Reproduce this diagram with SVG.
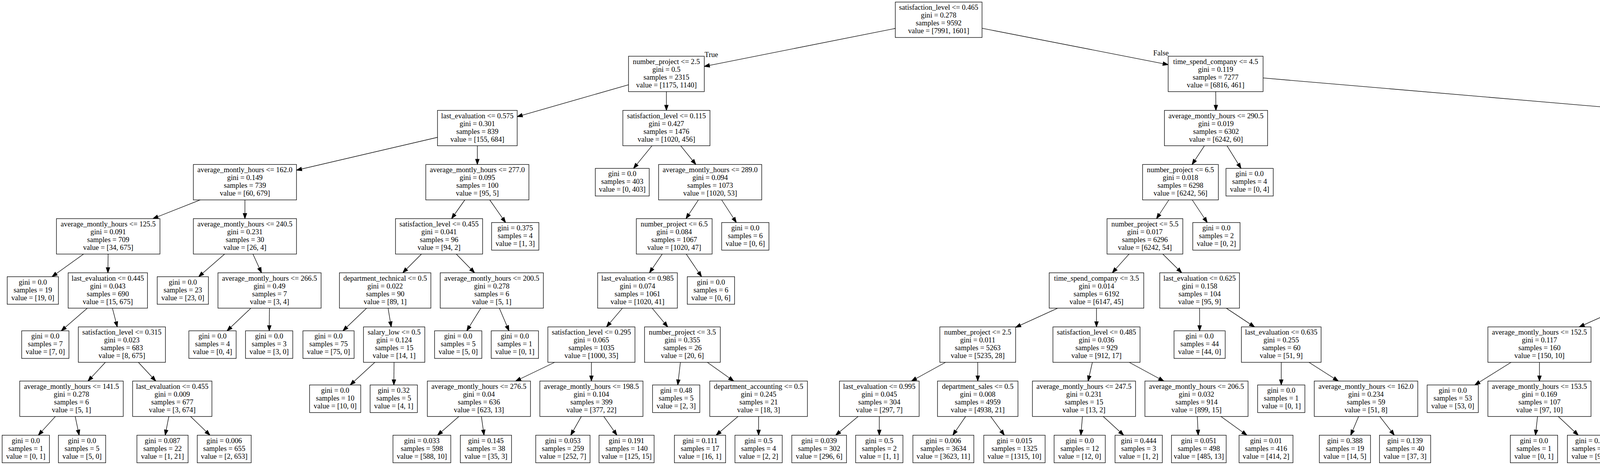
<svg xmlns="http://www.w3.org/2000/svg" width="6848" height="1191" viewBox="0 0 6848 1191">
<defs>
<style>
.node rect{fill:#ffffff;stroke:#000000;stroke-width:1.33}
.node text,.lbl{font-family:"Liberation Serif","Times New Roman",serif;font-size:18.67px;text-anchor:middle;fill:#000000}
#edges line{stroke:#000000;stroke-width:1.33;fill:none;marker-end:url(#arrow)}
</style>
<marker id="arrow" markerUnits="userSpaceOnUse" markerWidth="16" markerHeight="12" refX="13.33" refY="4.67" orient="auto" overflow="visible">
<path d="M0,0 L13.33,4.67 L0,9.33 Z" fill="#000000" stroke="#000000" stroke-width="1.33"/>
</marker>
</defs>
<rect x="0" y="0" width="6848" height="1191" fill="#ffffff"/>
<g id="edges">
<line x1="2292" y1="72.76" x2="1803" y2="170.03"/>
<line x1="2514" y1="72.38" x2="2990.5" y2="165.57"/>
<line x1="1609" y1="217.12" x2="1324" y2="298.78"/>
<line x1="1706" y1="234.67" x2="1706" y2="282.67"/>
<line x1="1120" y1="351.77" x2="759" y2="435.91"/>
<line x1="1222" y1="373.33" x2="1222" y2="421.33"/>
<line x1="512.6" y1="512" x2="391.4" y2="560"/>
<line x1="627" y1="512" x2="627" y2="560"/>
<line x1="213.9" y1="650.67" x2="133.2" y2="708.67"/>
<line x1="276.7" y1="650.67" x2="276.3" y2="698.67"/>
<line x1="223.7" y1="789.33" x2="156.8" y2="847.33"/>
<line x1="287.8" y1="789.33" x2="300.2" y2="837.33"/>
<line x1="269.8" y1="928" x2="225.2" y2="976"/>
<line x1="354.2" y1="928" x2="398.8" y2="976"/>
<line x1="141.8" y1="1066.67" x2="98.1" y2="1114.67"/>
<line x1="192.5" y1="1066.67" x2="202.6" y2="1114.67"/>
<line x1="432.2" y1="1066.67" x2="422.9" y2="1114.67"/>
<line x1="487.9" y1="1066.67" x2="537.5" y2="1114.67"/>
<line x1="575" y1="650.67" x2="508.5" y2="708.67"/>
<line x1="647.6" y1="650.67" x2="669.4" y2="698.67"/>
<line x1="642.3" y1="789.33" x2="581.2" y2="847.33"/>
<line x1="689.7" y1="789.33" x2="689.3" y2="847.33"/>
<line x1="1190" y1="512" x2="1156" y2="560"/>
<line x1="1253.7" y1="512" x2="1294.3" y2="570"/>
<line x1="1078.9" y1="650.67" x2="1031.1" y2="698.67"/>
<line x1="1168.1" y1="650.67" x2="1214.9" y2="698.67"/>
<line x1="938.6" y1="789.33" x2="877.9" y2="847.33"/>
<line x1="993.5" y1="789.33" x2="1001.5" y2="837.33"/>
<line x1="959.6" y1="928" x2="896.5" y2="986"/>
<line x1="1008.7" y1="928" x2="1008.3" y2="986"/>
<line x1="1230.9" y1="789.33" x2="1194.9" y2="847.33"/>
<line x1="1278.3" y1="789.33" x2="1303" y2="847.33"/>
<line x1="1669.1" y1="373.33" x2="1621.8" y2="431.33"/>
<line x1="1742.6" y1="373.33" x2="1781.4" y2="421.33"/>
<line x1="1787.9" y1="512" x2="1756.1" y2="560"/>
<line x1="1847.4" y1="512" x2="1885.1" y2="570"/>
<line x1="1695.3" y1="650.67" x2="1662.7" y2="698.67"/>
<line x1="1756.7" y1="650.67" x2="1796" y2="708.67"/>
<line x1="1593.4" y1="789.33" x2="1552.6" y2="837.33"/>
<line x1="1669.6" y1="789.33" x2="1709.4" y2="837.33"/>
<line x1="1419.9" y1="928" x2="1320.1" y2="976"/>
<line x1="1514" y1="928" x2="1514" y2="976"/>
<line x1="1174.6" y1="1066.67" x2="1120.1" y2="1114.67"/>
<line x1="1232.3" y1="1066.67" x2="1239.1" y2="1114.67"/>
<line x1="1488.3" y1="1066.67" x2="1461" y2="1114.67"/>
<line x1="1545.7" y1="1066.67" x2="1579.3" y2="1114.67"/>
<line x1="1741.8" y1="928" x2="1735.1" y2="986"/>
<line x1="1810.7" y1="928" x2="1878.3" y2="976"/>
<line x1="1889.2" y1="1066.67" x2="1833.2" y2="1114.67"/>
<line x1="1942" y1="1066.67" x2="1942" y2="1114.67"/>
<line x1="3112.3" y1="234.67" x2="3112.7" y2="282.67"/>
<line x1="3233.5" y1="199.71" x2="4633" y2="319.29"/>
<line x1="3083.3" y1="373.33" x2="3051.7" y2="421.33"/>
<line x1="3141.1" y1="373.33" x2="3177.1" y2="431.33"/>
<line x1="2992.3" y1="512" x2="2960.7" y2="560"/>
<line x1="3052.1" y1="512" x2="3090.6" y2="570"/>
<line x1="2890.5" y1="650.67" x2="2847.5" y2="698.67"/>
<line x1="2976.8" y1="650.67" x2="3025.2" y2="698.67"/>
<line x1="2707.6" y1="789.33" x2="2600" y2="838.43"/>
<line x1="2807" y1="789.33" x2="2807" y2="837.33"/>
<line x1="2420.6" y1="928" x2="2333.4" y2="976"/>
<line x1="2503" y1="928" x2="2503" y2="976"/>
<line x1="2196.7" y1="1066.67" x2="2139.3" y2="1114.67"/>
<line x1="2251" y1="1066.67" x2="2251" y2="1114.67"/>
<line x1="2472" y1="1066.67" x2="2439.2" y2="1114.67"/>
<line x1="2536.1" y1="1066.67" x2="2571.2" y2="1114.67"/>
<line x1="2796.5" y1="928" x2="2785.5" y2="976"/>
<line x1="2890.7" y1="928" x2="2979.3" y2="976"/>
<line x1="2771.1" y1="1066.67" x2="2767" y2="1114.67"/>
<line x1="2824.3" y1="1066.67" x2="2876.6" y2="1114.67"/>
<line x1="3065.1" y1="1066.67" x2="3067.4" y2="1114.67"/>
<line x1="3125.7" y1="1066.67" x2="3192.1" y2="1114.67"/>
<line x1="3071" y1="789.33" x2="3071" y2="847.33"/>
<line x1="3139.3" y1="789.33" x2="3211.7" y2="837.33"/>
<line x1="3280" y1="928" x2="3280" y2="986"/>
<line x1="3350.9" y1="928" x2="3426.1" y2="976"/>
<line x1="3478" y1="1066.67" x2="3457.8" y2="1114.67"/>
<line x1="3532.2" y1="1066.67" x2="3569.5" y2="1114.67"/>
<line x1="4735" y1="373.33" x2="4735" y2="421.33"/>
<line x1="4837" y1="348.35" x2="5298" y2="440.33"/>
<line x1="4681.4" y1="512" x2="4624.6" y2="560"/>
<line x1="4788.6" y1="512" x2="4845.4" y2="560"/>
<line x1="4466.7" y1="650.67" x2="4356.3" y2="698.67"/>
<line x1="4571" y1="650.67" x2="4571" y2="698.67"/>
<line x1="4150.3" y1="789.33" x2="4042.7" y2="837.33"/>
<line x1="4252" y1="789.33" x2="4252" y2="837.33"/>
<line x1="3868.4" y1="928" x2="3775.6" y2="986"/>
<line x1="3941" y1="928" x2="3941" y2="976"/>
<line x1="3936.1" y1="1066.67" x2="3930.8" y2="1114.67"/>
<line x1="3989.3" y1="1066.67" x2="4040.4" y2="1114.67"/>
<line x1="4223.9" y1="928" x2="4187.9" y2="986"/>
<line x1="4290.9" y1="928" x2="4332.1" y2="976"/>
<line x1="4322.7" y1="1066.67" x2="4271.6" y2="1114.67"/>
<line x1="4375.6" y1="1066.67" x2="4380.4" y2="1114.67"/>
<line x1="4566.8" y1="789.33" x2="4562.2" y2="837.33"/>
<line x1="4630.8" y1="789.33" x2="4707.4" y2="847.33"/>
<line x1="4577.6" y1="928" x2="4598.4" y2="976"/>
<line x1="4643.3" y1="928" x2="4753.5" y2="986.53"/>
<line x1="4592.3" y1="1066.67" x2="4565" y2="1114.67"/>
<line x1="4643.7" y1="1066.67" x2="4671" y2="1114.67"/>
<line x1="4899" y1="650.67" x2="4899" y2="698.67"/>
<line x1="4960.5" y1="650.67" x2="5039.1" y2="708.67"/>
<line x1="4899.3" y1="789.33" x2="4899.7" y2="847.33"/>
<line x1="4946.7" y1="789.33" x2="5007.8" y2="847.33"/>
<line x1="5430" y1="512" x2="5430" y2="560"/>
<line x1="5562" y1="506.9" x2="5773.5" y2="571.35"/>
<line x1="5400.3" y1="650.67" x2="5368.7" y2="698.67"/>
<line x1="5459.7" y1="650.67" x2="5497.8" y2="708.67"/>
<line x1="5310.2" y1="789.33" x2="5279.8" y2="837.33"/>
<line x1="5389.7" y1="789.33" x2="5443.3" y2="837.33"/>
<line x1="5189.9" y1="928" x2="5125.1" y2="976"/>
<line x1="5251" y1="928" x2="5251" y2="986"/>
<line x1="5037.6" y1="1066.67" x2="5009.6" y2="1114.67"/>
<line x1="5090.4" y1="1066.67" x2="5118.4" y2="1114.67"/>
<line x1="5463.6" y1="928" x2="5424.7" y2="986"/>
<line x1="5525.1" y1="928" x2="5557.9" y2="976"/>
<line x1="5537.9" y1="1066.67" x2="5483.8" y2="1114.67"/>
<line x1="5589" y1="1066.67" x2="5589" y2="1114.67"/>
<line x1="5885" y1="650.67" x2="5885" y2="698.67"/>
<line x1="5996.5" y1="636.89" x2="6254" y2="709.76"/>
<line x1="5850.3" y1="789.33" x2="5806" y2="847.33"/>
<line x1="5918.7" y1="789.33" x2="5954.3" y2="837.33"/>
<line x1="5934.4" y1="928" x2="5877.6" y2="976"/>
<line x1="6020.4" y1="928" x2="6054.6" y2="976"/>
<line x1="5793.4" y1="1066.67" x2="5760.9" y2="1114.67"/>
<line x1="5844.1" y1="1066.67" x2="5865.3" y2="1114.67"/>
<line x1="6066.2" y1="1066.67" x2="6044.2" y2="1114.67"/>
<line x1="6116.9" y1="1066.67" x2="6148.7" y2="1114.67"/>
<line x1="6375" y1="789.33" x2="6375" y2="837.33"/>
<line x1="6434.8" y1="789.33" x2="6511.4" y2="847.33"/>
<line x1="6375" y1="928" x2="6375" y2="976"/>
<line x1="6457.7" y1="928" x2="6545.3" y2="976"/>
<line x1="6355.6" y1="1066.67" x2="6335.1" y2="1114.67"/>
<line x1="6407.1" y1="1066.67" x2="6441" y2="1114.67"/>
<line x1="6627" y1="1066.67" x2="6625.8" y2="1114.67"/>
<line x1="6681.9" y1="1066.67" x2="6739" y2="1114.67"/>
<text class="lbl" x="1821" y="146">True</text>
<text class="lbl" x="2972" y="142">False</text>
</g>
<g id="nodes">
<g id="n0" class="node" transform="translate(2403,50.67)"><rect x="-111" y="-45.33" width="222" height="90.67"/><text y="-25.33">satisfaction_level &lt;= 0.465</text><text y="-5.33">gini = 0.278</text><text y="14.67">samples = 9592</text><text y="34.67">value = [7991, 1601]</text></g>
<g id="n1" class="node" transform="translate(1706,189.33)"><rect x="-97" y="-45.33" width="194" height="90.67"/><text y="-25.33">number_project &lt;= 2.5</text><text y="-5.33">gini = 0.5</text><text y="14.67">samples = 2315</text><text y="34.67">value = [1175, 1140]</text></g>
<g id="n2" class="node" transform="translate(1222,328)"><rect x="-102" y="-45.33" width="204" height="90.67"/><text y="-25.33">last_evaluation &lt;= 0.575</text><text y="-5.33">gini = 0.301</text><text y="14.67">samples = 839</text><text y="34.67">value = [155, 684]</text></g>
<g id="n3" class="node" transform="translate(627,466.67)"><rect x="-132" y="-45.33" width="264" height="90.67"/><text y="-25.33">average_montly_hours &lt;= 162.0</text><text y="-5.33">gini = 0.149</text><text y="14.67">samples = 739</text><text y="34.67">value = [60, 679]</text></g>
<g id="n4" class="node" transform="translate(277,605.33)"><rect x="-132.5" y="-45.33" width="265" height="90.67"/><text y="-25.33">average_montly_hours &lt;= 125.5</text><text y="-5.33">gini = 0.091</text><text y="14.67">samples = 709</text><text y="34.67">value = [34, 675]</text></g>
<g id="n5" class="node" transform="translate(84,744)"><rect x="-65.5" y="-35.33" width="131" height="70.67"/><text y="-15.33">gini = 0.0</text><text y="4.67">samples = 19</text><text y="24.67">value = [19, 0]</text></g>
<g id="n6" class="node" transform="translate(276,744)"><rect x="-101.5" y="-45.33" width="203" height="90.67"/><text y="-25.33">last_evaluation &lt;= 0.445</text><text y="-5.33">gini = 0.043</text><text y="14.67">samples = 690</text><text y="34.67">value = [15, 675]</text></g>
<g id="n7" class="node" transform="translate(116,882.67)"><rect x="-60.5" y="-35.33" width="121" height="70.67"/><text y="-15.33">gini = 0.0</text><text y="4.67">samples = 7</text><text y="24.67">value = [7, 0]</text></g>
<g id="n8" class="node" transform="translate(312,882.67)"><rect x="-111.5" y="-45.33" width="223" height="90.67"/><text y="-25.33">satisfaction_level &lt;= 0.315</text><text y="-5.33">gini = 0.023</text><text y="14.67">samples = 683</text><text y="34.67">value = [8, 675]</text></g>
<g id="n9" class="node" transform="translate(183,1021.33)"><rect x="-132.5" y="-45.33" width="265" height="90.67"/><text y="-25.33">average_montly_hours &lt;= 141.5</text><text y="-5.33">gini = 0.278</text><text y="14.67">samples = 6</text><text y="34.67">value = [5, 1]</text></g>
<g id="n10" class="node" transform="translate(66,1150)"><rect x="-60.5" y="-35.33" width="121" height="70.67"/><text y="-15.33">gini = 0.0</text><text y="4.67">samples = 1</text><text y="24.67">value = [0, 1]</text></g>
<g id="n11" class="node" transform="translate(210,1150)"><rect x="-60.5" y="-35.33" width="121" height="70.67"/><text y="-15.33">gini = 0.0</text><text y="4.67">samples = 5</text><text y="24.67">value = [5, 0]</text></g>
<g id="n12" class="node" transform="translate(441,1021.33)"><rect x="-101.5" y="-45.33" width="203" height="90.67"/><text y="-25.33">last_evaluation &lt;= 0.455</text><text y="-5.33">gini = 0.009</text><text y="14.67">samples = 677</text><text y="34.67">value = [3, 674]</text></g>
<g id="n13" class="node" transform="translate(416,1150)"><rect x="-65.5" y="-35.33" width="131" height="70.67"/><text y="-15.33">gini = 0.087</text><text y="4.67">samples = 22</text><text y="24.67">value = [1, 21]</text></g>
<g id="n14" class="node" transform="translate(574,1150)"><rect x="-69" y="-35.33" width="138" height="70.67"/><text y="-15.33">gini = 0.006</text><text y="4.67">samples = 655</text><text y="24.67">value = [2, 653]</text></g>
<g id="n15" class="node" transform="translate(627,605.33)"><rect x="-132" y="-45.33" width="264" height="90.67"/><text y="-25.33">average_montly_hours &lt;= 240.5</text><text y="-5.33">gini = 0.231</text><text y="14.67">samples = 30</text><text y="34.67">value = [26, 4]</text></g>
<g id="n16" class="node" transform="translate(468,744)"><rect x="-65.5" y="-35.33" width="131" height="70.67"/><text y="-15.33">gini = 0.0</text><text y="4.67">samples = 23</text><text y="24.67">value = [23, 0]</text></g>
<g id="n17" class="node" transform="translate(690,744)"><rect x="-132" y="-45.33" width="264" height="90.67"/><text y="-25.33">average_montly_hours &lt;= 266.5</text><text y="-5.33">gini = 0.49</text><text y="14.67">samples = 7</text><text y="34.67">value = [3, 4]</text></g>
<g id="n18" class="node" transform="translate(544,882.67)"><rect x="-60.5" y="-35.33" width="121" height="70.67"/><text y="-15.33">gini = 0.0</text><text y="4.67">samples = 4</text><text y="24.67">value = [0, 4]</text></g>
<g id="n19" class="node" transform="translate(689,882.67)"><rect x="-60.5" y="-35.33" width="121" height="70.67"/><text y="-15.33">gini = 0.0</text><text y="4.67">samples = 3</text><text y="24.67">value = [3, 0]</text></g>
<g id="n20" class="node" transform="translate(1222,466.67)"><rect x="-132" y="-45.33" width="264" height="90.67"/><text y="-25.33">average_montly_hours &lt;= 277.0</text><text y="-5.33">gini = 0.095</text><text y="14.67">samples = 100</text><text y="34.67">value = [95, 5]</text></g>
<g id="n21" class="node" transform="translate(1124,605.33)"><rect x="-111.5" y="-45.33" width="223" height="90.67"/><text y="-25.33">satisfaction_level &lt;= 0.455</text><text y="-5.33">gini = 0.041</text><text y="14.67">samples = 96</text><text y="34.67">value = [94, 2]</text></g>
<g id="n22" class="node" transform="translate(986,744)"><rect x="-117" y="-45.33" width="234" height="90.67"/><text y="-25.33">department_technical &lt;= 0.5</text><text y="-5.33">gini = 0.022</text><text y="14.67">samples = 90</text><text y="34.67">value = [89, 1]</text></g>
<g id="n23" class="node" transform="translate(841,882.67)"><rect x="-65.5" y="-35.33" width="131" height="70.67"/><text y="-15.33">gini = 0.0</text><text y="4.67">samples = 75</text><text y="24.67">value = [75, 0]</text></g>
<g id="n24" class="node" transform="translate(1009,882.67)"><rect x="-78.5" y="-45.33" width="157" height="90.67"/><text y="-25.33">salary_low &lt;= 0.5</text><text y="-5.33">gini = 0.124</text><text y="14.67">samples = 15</text><text y="34.67">value = [14, 1]</text></g>
<g id="n25" class="node" transform="translate(858,1021.33)"><rect x="-65.5" y="-35.33" width="131" height="70.67"/><text y="-15.33">gini = 0.0</text><text y="4.67">samples = 10</text><text y="24.67">value = [10, 0]</text></g>
<g id="n26" class="node" transform="translate(1008,1021.33)"><rect x="-60.5" y="-35.33" width="121" height="70.67"/><text y="-15.33">gini = 0.32</text><text y="4.67">samples = 5</text><text y="24.67">value = [4, 1]</text></g>
<g id="n27" class="node" transform="translate(1259,744)"><rect x="-132" y="-45.33" width="264" height="90.67"/><text y="-25.33">average_montly_hours &lt;= 200.5</text><text y="-5.33">gini = 0.278</text><text y="14.67">samples = 6</text><text y="34.67">value = [5, 1]</text></g>
<g id="n28" class="node" transform="translate(1173,882.67)"><rect x="-60.5" y="-35.33" width="121" height="70.67"/><text y="-15.33">gini = 0.0</text><text y="4.67">samples = 5</text><text y="24.67">value = [5, 0]</text></g>
<g id="n29" class="node" transform="translate(1318,882.67)"><rect x="-60.5" y="-35.33" width="121" height="70.67"/><text y="-15.33">gini = 0.0</text><text y="4.67">samples = 1</text><text y="24.67">value = [0, 1]</text></g>
<g id="n30" class="node" transform="translate(1319,605.33)"><rect x="-60.5" y="-35.33" width="121" height="70.67"/><text y="-15.33">gini = 0.375</text><text y="4.67">samples = 4</text><text y="24.67">value = [1, 3]</text></g>
<g id="n31" class="node" transform="translate(1706,328)"><rect x="-111.5" y="-45.33" width="223" height="90.67"/><text y="-25.33">satisfaction_level &lt;= 0.115</text><text y="-5.33">gini = 0.427</text><text y="14.67">samples = 1476</text><text y="34.67">value = [1020, 456]</text></g>
<g id="n32" class="node" transform="translate(1593,466.67)"><rect x="-69" y="-35.33" width="138" height="70.67"/><text y="-15.33">gini = 0.0</text><text y="4.67">samples = 403</text><text y="24.67">value = [0, 403]</text></g>
<g id="n33" class="node" transform="translate(1818,466.67)"><rect x="-132" y="-45.33" width="264" height="90.67"/><text y="-25.33">average_montly_hours &lt;= 289.0</text><text y="-5.33">gini = 0.094</text><text y="14.67">samples = 1073</text><text y="34.67">value = [1020, 53]</text></g>
<g id="n34" class="node" transform="translate(1726,605.33)"><rect x="-97" y="-45.33" width="194" height="90.67"/><text y="-25.33">number_project &lt;= 6.5</text><text y="-5.33">gini = 0.084</text><text y="14.67">samples = 1067</text><text y="34.67">value = [1020, 47]</text></g>
<g id="n35" class="node" transform="translate(1632,744)"><rect x="-102" y="-45.33" width="204" height="90.67"/><text y="-25.33">last_evaluation &lt;= 0.985</text><text y="-5.33">gini = 0.074</text><text y="14.67">samples = 1061</text><text y="34.67">value = [1020, 41]</text></g>
<g id="n36" class="node" transform="translate(1514,882.67)"><rect x="-111.5" y="-45.33" width="223" height="90.67"/><text y="-25.33">satisfaction_level &lt;= 0.295</text><text y="-5.33">gini = 0.065</text><text y="14.67">samples = 1035</text><text y="34.67">value = [1000, 35]</text></g>
<g id="n37" class="node" transform="translate(1226,1021.33)"><rect x="-132" y="-45.33" width="264" height="90.67"/><text y="-25.33">average_montly_hours &lt;= 276.5</text><text y="-5.33">gini = 0.04</text><text y="14.67">samples = 636</text><text y="34.67">value = [623, 13]</text></g>
<g id="n38" class="node" transform="translate(1080,1150)"><rect x="-74" y="-35.33" width="148" height="70.67"/><text y="-15.33">gini = 0.033</text><text y="4.67">samples = 598</text><text y="24.67">value = [588, 10]</text></g>
<g id="n39" class="node" transform="translate(1244,1150)"><rect x="-65.5" y="-35.33" width="131" height="70.67"/><text y="-15.33">gini = 0.145</text><text y="4.67">samples = 38</text><text y="24.67">value = [35, 3]</text></g>
<g id="n40" class="node" transform="translate(1514,1021.33)"><rect x="-132" y="-45.33" width="264" height="90.67"/><text y="-25.33">average_montly_hours &lt;= 198.5</text><text y="-5.33">gini = 0.104</text><text y="14.67">samples = 399</text><text y="34.67">value = [377, 22]</text></g>
<g id="n41" class="node" transform="translate(1441,1150)"><rect x="-69.5" y="-35.33" width="139" height="70.67"/><text y="-15.33">gini = 0.053</text><text y="4.67">samples = 259</text><text y="24.67">value = [252, 7]</text></g>
<g id="n42" class="node" transform="translate(1604,1150)"><rect x="-70.5" y="-35.33" width="141" height="70.67"/><text y="-15.33">gini = 0.191</text><text y="4.67">samples = 140</text><text y="24.67">value = [125, 15]</text></g>
<g id="n43" class="node" transform="translate(1747,882.67)"><rect x="-97" y="-45.33" width="194" height="90.67"/><text y="-25.33">number_project &lt;= 3.5</text><text y="-5.33">gini = 0.355</text><text y="14.67">samples = 26</text><text y="34.67">value = [20, 6]</text></g>
<g id="n44" class="node" transform="translate(1731,1021.33)"><rect x="-60.5" y="-35.33" width="121" height="70.67"/><text y="-15.33">gini = 0.48</text><text y="4.67">samples = 5</text><text y="24.67">value = [2, 3]</text></g>
<g id="n45" class="node" transform="translate(1942,1021.33)"><rect x="-125" y="-45.33" width="250" height="90.67"/><text y="-25.33">department_accounting &lt;= 0.5</text><text y="-5.33">gini = 0.245</text><text y="14.67">samples = 21</text><text y="34.67">value = [18, 3]</text></g>
<g id="n46" class="node" transform="translate(1792,1150)"><rect x="-65.5" y="-35.33" width="131" height="70.67"/><text y="-15.33">gini = 0.111</text><text y="4.67">samples = 17</text><text y="24.67">value = [16, 1]</text></g>
<g id="n47" class="node" transform="translate(1942,1150)"><rect x="-60.5" y="-35.33" width="121" height="70.67"/><text y="-15.33">gini = 0.5</text><text y="4.67">samples = 4</text><text y="24.67">value = [2, 2]</text></g>
<g id="n48" class="node" transform="translate(1820,744)"><rect x="-60.5" y="-35.33" width="121" height="70.67"/><text y="-15.33">gini = 0.0</text><text y="4.67">samples = 6</text><text y="24.67">value = [0, 6]</text></g>
<g id="n49" class="node" transform="translate(1908,605.33)"><rect x="-60.5" y="-35.33" width="121" height="70.67"/><text y="-15.33">gini = 0.0</text><text y="4.67">samples = 6</text><text y="24.67">value = [0, 6]</text></g>
<g id="n50" class="node" transform="translate(3112,189.33)"><rect x="-121.5" y="-45.33" width="243" height="90.67"/><text y="-25.33">time_spend_company &lt;= 4.5</text><text y="-5.33">gini = 0.119</text><text y="14.67">samples = 7277</text><text y="34.67">value = [6816, 461]</text></g>
<g id="n51" class="node" transform="translate(3113,328)"><rect x="-132" y="-45.33" width="264" height="90.67"/><text y="-25.33">average_montly_hours &lt;= 290.5</text><text y="-5.33">gini = 0.019</text><text y="14.67">samples = 6302</text><text y="34.67">value = [6242, 60]</text></g>
<g id="n52" class="node" transform="translate(3022,466.67)"><rect x="-97" y="-45.33" width="194" height="90.67"/><text y="-25.33">number_project &lt;= 6.5</text><text y="-5.33">gini = 0.018</text><text y="14.67">samples = 6298</text><text y="34.67">value = [6242, 56]</text></g>
<g id="n53" class="node" transform="translate(2931,605.33)"><rect x="-97" y="-45.33" width="194" height="90.67"/><text y="-25.33">number_project &lt;= 5.5</text><text y="-5.33">gini = 0.017</text><text y="14.67">samples = 6296</text><text y="34.67">value = [6242, 54]</text></g>
<g id="n54" class="node" transform="translate(2807,744)"><rect x="-121" y="-45.33" width="242" height="90.67"/><text y="-25.33">time_spend_company &lt;= 3.5</text><text y="-5.33">gini = 0.014</text><text y="14.67">samples = 6192</text><text y="34.67">value = [6147, 45]</text></g>
<g id="n55" class="node" transform="translate(2503,882.67)"><rect x="-97" y="-45.33" width="194" height="90.67"/><text y="-25.33">number_project &lt;= 2.5</text><text y="-5.33">gini = 0.011</text><text y="14.67">samples = 5263</text><text y="34.67">value = [5235, 28]</text></g>
<g id="n56" class="node" transform="translate(2251,1021.33)"><rect x="-102" y="-45.33" width="204" height="90.67"/><text y="-25.33">last_evaluation &lt;= 0.995</text><text y="-5.33">gini = 0.045</text><text y="14.67">samples = 304</text><text y="34.67">value = [297, 7]</text></g>
<g id="n57" class="node" transform="translate(2097,1150)"><rect x="-70" y="-35.33" width="140" height="70.67"/><text y="-15.33">gini = 0.039</text><text y="4.67">samples = 302</text><text y="24.67">value = [296, 6]</text></g>
<g id="n58" class="node" transform="translate(2251,1150)"><rect x="-60.5" y="-35.33" width="121" height="70.67"/><text y="-15.33">gini = 0.5</text><text y="4.67">samples = 2</text><text y="24.67">value = [1, 1]</text></g>
<g id="n59" class="node" transform="translate(2503,1021.33)"><rect x="-103" y="-45.33" width="206" height="90.67"/><text y="-25.33">department_sales &lt;= 0.5</text><text y="-5.33">gini = 0.008</text><text y="14.67">samples = 4959</text><text y="34.67">value = [4938, 21]</text></g>
<g id="n60" class="node" transform="translate(2415,1150)"><rect x="-78" y="-35.33" width="156" height="70.67"/><text y="-15.33">gini = 0.006</text><text y="4.67">samples = 3634</text><text y="24.67">value = [3623, 11]</text></g>
<g id="n61" class="node" transform="translate(2597,1150)"><rect x="-78.5" y="-35.33" width="157" height="70.67"/><text y="-15.33">gini = 0.015</text><text y="4.67">samples = 1325</text><text y="24.67">value = [1315, 10]</text></g>
<g id="n62" class="node" transform="translate(2807,882.67)"><rect x="-111.5" y="-45.33" width="223" height="90.67"/><text y="-25.33">satisfaction_level &lt;= 0.485</text><text y="-5.33">gini = 0.036</text><text y="14.67">samples = 929</text><text y="34.67">value = [912, 17]</text></g>
<g id="n63" class="node" transform="translate(2775,1021.33)"><rect x="-132" y="-45.33" width="264" height="90.67"/><text y="-25.33">average_montly_hours &lt;= 247.5</text><text y="-5.33">gini = 0.231</text><text y="14.67">samples = 15</text><text y="34.67">value = [13, 2]</text></g>
<g id="n64" class="node" transform="translate(2764,1150)"><rect x="-65.5" y="-35.33" width="131" height="70.67"/><text y="-15.33">gini = 0.0</text><text y="4.67">samples = 12</text><text y="24.67">value = [12, 0]</text></g>
<g id="n65" class="node" transform="translate(2915,1150)"><rect x="-60.5" y="-35.33" width="121" height="70.67"/><text y="-15.33">gini = 0.444</text><text y="4.67">samples = 3</text><text y="24.67">value = [1, 2]</text></g>
<g id="n66" class="node" transform="translate(3063,1021.33)"><rect x="-132" y="-45.33" width="264" height="90.67"/><text y="-25.33">average_montly_hours &lt;= 206.5</text><text y="-5.33">gini = 0.032</text><text y="14.67">samples = 914</text><text y="34.67">value = [899, 15]</text></g>
<g id="n67" class="node" transform="translate(3069,1150)"><rect x="-70" y="-35.33" width="140" height="70.67"/><text y="-15.33">gini = 0.051</text><text y="4.67">samples = 498</text><text y="24.67">value = [485, 13]</text></g>
<g id="n68" class="node" transform="translate(3241,1150)"><rect x="-69" y="-35.33" width="138" height="70.67"/><text y="-15.33">gini = 0.01</text><text y="4.67">samples = 416</text><text y="24.67">value = [414, 2]</text></g>
<g id="n69" class="node" transform="translate(3071,744)"><rect x="-102" y="-45.33" width="204" height="90.67"/><text y="-25.33">last_evaluation &lt;= 0.625</text><text y="-5.33">gini = 0.158</text><text y="14.67">samples = 104</text><text y="34.67">value = [95, 9]</text></g>
<g id="n70" class="node" transform="translate(3071,882.67)"><rect x="-65.5" y="-35.33" width="131" height="70.67"/><text y="-15.33">gini = 0.0</text><text y="4.67">samples = 44</text><text y="24.67">value = [44, 0]</text></g>
<g id="n71" class="node" transform="translate(3280,882.67)"><rect x="-102" y="-45.33" width="204" height="90.67"/><text y="-25.33">last_evaluation &lt;= 0.635</text><text y="-5.33">gini = 0.255</text><text y="14.67">samples = 60</text><text y="34.67">value = [51, 9]</text></g>
<g id="n72" class="node" transform="translate(3280,1021.33)"><rect x="-60.5" y="-35.33" width="121" height="70.67"/><text y="-15.33">gini = 0.0</text><text y="4.67">samples = 1</text><text y="24.67">value = [0, 1]</text></g>
<g id="n73" class="node" transform="translate(3497,1021.33)"><rect x="-132.5" y="-45.33" width="265" height="90.67"/><text y="-25.33">average_montly_hours &lt;= 162.0</text><text y="-5.33">gini = 0.234</text><text y="14.67">samples = 59</text><text y="34.67">value = [51, 8]</text></g>
<g id="n74" class="node" transform="translate(3443,1150)"><rect x="-65.5" y="-35.33" width="131" height="70.67"/><text y="-15.33">gini = 0.388</text><text y="4.67">samples = 19</text><text y="24.67">value = [14, 5]</text></g>
<g id="n75" class="node" transform="translate(3597,1150)"><rect x="-65.5" y="-35.33" width="131" height="70.67"/><text y="-15.33">gini = 0.139</text><text y="4.67">samples = 40</text><text y="24.67">value = [37, 3]</text></g>
<g id="n76" class="node" transform="translate(3114,605.33)"><rect x="-60.5" y="-35.33" width="121" height="70.67"/><text y="-15.33">gini = 0.0</text><text y="4.67">samples = 2</text><text y="24.67">value = [0, 2]</text></g>
<g id="n77" class="node" transform="translate(3199,466.67)"><rect x="-60.5" y="-35.33" width="121" height="70.67"/><text y="-15.33">gini = 0.0</text><text y="4.67">samples = 4</text><text y="24.67">value = [0, 4]</text></g>
<g id="n78" class="node" transform="translate(4735,328)"><rect x="-102" y="-45.33" width="204" height="90.67"/><text y="-25.33">last_evaluation &lt;= 0.815</text><text y="-5.33">gini = 0.484</text><text y="14.67">samples = 975</text><text y="34.67">value = [574, 401]</text></g>
<g id="n79" class="node" transform="translate(4735,466.67)"><rect x="-102" y="-45.33" width="204" height="90.67"/><text y="-25.33">last_evaluation &lt;= 0.805</text><text y="-5.33">gini = 0.08</text><text y="14.67">samples = 429</text><text y="34.67">value = [411, 18]</text></g>
<g id="n80" class="node" transform="translate(4571,605.33)"><rect x="-132" y="-45.33" width="264" height="90.67"/><text y="-25.33">average_montly_hours &lt;= 272.5</text><text y="-5.33">gini = 0.069</text><text y="14.67">samples = 417</text><text y="34.67">value = [402, 15]</text></g>
<g id="n81" class="node" transform="translate(4252,744)"><rect x="-121" y="-45.33" width="242" height="90.67"/><text y="-25.33">time_spend_company &lt;= 5.5</text><text y="-5.33">gini = 0.059</text><text y="14.67">samples = 397</text><text y="34.67">value = [385, 12]</text></g>
<g id="n82" class="node" transform="translate(3941,882.67)"><rect x="-132" y="-45.33" width="264" height="90.67"/><text y="-25.33">average_montly_hours &lt;= 152.5</text><text y="-5.33">gini = 0.117</text><text y="14.67">samples = 160</text><text y="34.67">value = [150, 10]</text></g>
<g id="n83" class="node" transform="translate(3719,1021.33)"><rect x="-65.5" y="-35.33" width="131" height="70.67"/><text y="-15.33">gini = 0.0</text><text y="4.67">samples = 53</text><text y="24.67">value = [53, 0]</text></g>
<g id="n84" class="node" transform="translate(3941,1021.33)"><rect x="-132" y="-45.33" width="264" height="90.67"/><text y="-25.33">average_montly_hours &lt;= 153.5</text><text y="-5.33">gini = 0.169</text><text y="14.67">samples = 107</text><text y="34.67">value = [97, 10]</text></g>
<g id="n85" class="node" transform="translate(3927,1150)"><rect x="-60.5" y="-35.33" width="121" height="70.67"/><text y="-15.33">gini = 0.0</text><text y="4.67">samples = 1</text><text y="24.67">value = [0, 1]</text></g>
<g id="n86" class="node" transform="translate(4078,1150)"><rect x="-65.5" y="-35.33" width="131" height="70.67"/><text y="-15.33">gini = 0.155</text><text y="4.67">samples = 106</text><text y="24.67">value = [97, 9]</text></g>
<g id="n87" class="node" transform="translate(4252,882.67)"><rect x="-97" y="-45.33" width="194" height="90.67"/><text y="-25.33">number_project &lt;= 4.5</text><text y="-5.33">gini = 0.017</text><text y="14.67">samples = 237</text><text y="34.67">value = [235, 2]</text></g>
<g id="n88" class="node" transform="translate(4166,1021.33)"><rect x="-69" y="-35.33" width="138" height="70.67"/><text y="-15.33">gini = 0.0</text><text y="4.67">samples = 171</text><text y="24.67">value = [171, 0]</text></g>
<g id="n89" class="node" transform="translate(4371,1021.33)"><rect x="-111.5" y="-45.33" width="223" height="90.67"/><text y="-25.33">satisfaction_level &lt;= 0.555</text><text y="-5.33">gini = 0.059</text><text y="14.67">samples = 66</text><text y="34.67">value = [64, 2]</text></g>
<g id="n90" class="node" transform="translate(4234,1150)"><rect x="-60.5" y="-35.33" width="121" height="70.67"/><text y="-15.33">gini = 0.32</text><text y="4.67">samples = 5</text><text y="24.67">value = [4, 1]</text></g>
<g id="n91" class="node" transform="translate(4384,1150)"><rect x="-65.5" y="-35.33" width="131" height="70.67"/><text y="-15.33">gini = 0.032</text><text y="4.67">samples = 61</text><text y="24.67">value = [60, 1]</text></g>
<g id="n92" class="node" transform="translate(4571,744)"><rect x="-114.5" y="-45.33" width="229" height="90.67"/><text y="-25.33">department_support &lt;= 0.5</text><text y="-5.33">gini = 0.255</text><text y="14.67">samples = 20</text><text y="34.67">value = [17, 3]</text></g>
<g id="n93" class="node" transform="translate(4558,882.67)"><rect x="-111.5" y="-45.33" width="223" height="90.67"/><text y="-25.33">satisfaction_level &lt;= 0.575</text><text y="-5.33">gini = 0.188</text><text y="14.67">samples = 19</text><text y="34.67">value = [17, 2]</text></g>
<g id="n94" class="node" transform="translate(4618,1021.33)"><rect x="-111.5" y="-45.33" width="223" height="90.67"/><text y="-25.33">satisfaction_level &lt;= 0.515</text><text y="-5.33">gini = 0.408</text><text y="14.67">samples = 7</text><text y="34.67">value = [5, 2]</text></g>
<g id="n95" class="node" transform="translate(4545,1150)"><rect x="-60.5" y="-35.33" width="121" height="70.67"/><text y="-15.33">gini = 0.0</text><text y="4.67">samples = 4</text><text y="24.67">value = [4, 0]</text></g>
<g id="n96" class="node" transform="translate(4691,1150)"><rect x="-60.5" y="-35.33" width="121" height="70.67"/><text y="-15.33">gini = 0.444</text><text y="4.67">samples = 3</text><text y="24.67">value = [1, 2]</text></g>
<g id="n97" class="node" transform="translate(4819,1021.33)"><rect x="-65.5" y="-35.33" width="131" height="70.67"/><text y="-15.33">gini = 0.0</text><text y="4.67">samples = 12</text><text y="24.67">value = [12, 0]</text></g>
<g id="n98" class="node" transform="translate(4754,882.67)"><rect x="-60.5" y="-35.33" width="121" height="70.67"/><text y="-15.33">gini = 0.0</text><text y="4.67">samples = 1</text><text y="24.67">value = [0, 1]</text></g>
<g id="n99" class="node" transform="translate(4899,605.33)"><rect x="-78.5" y="-45.33" width="157" height="90.67"/><text y="-25.33">salary_low &lt;= 0.5</text><text y="-5.33">gini = 0.375</text><text y="14.67">samples = 12</text><text y="34.67">value = [9, 3]</text></g>
<g id="n100" class="node" transform="translate(4899,744)"><rect x="-103.5" y="-45.33" width="207" height="90.67"/><text y="-25.33">department_sales &lt;= 0.5</text><text y="-5.33">gini = 0.198</text><text y="14.67">samples = 9</text><text y="34.67">value = [8, 1]</text></g>
<g id="n101" class="node" transform="translate(4900,882.67)"><rect x="-60.5" y="-35.33" width="121" height="70.67"/><text y="-15.33">gini = 0.0</text><text y="4.67">samples = 6</text><text y="24.67">value = [6, 0]</text></g>
<g id="n102" class="node" transform="translate(5045,882.67)"><rect x="-60.5" y="-35.33" width="121" height="70.67"/><text y="-15.33">gini = 0.444</text><text y="4.67">samples = 3</text><text y="24.67">value = [2, 1]</text></g>
<g id="n103" class="node" transform="translate(5087,744)"><rect x="-60.5" y="-35.33" width="121" height="70.67"/><text y="-15.33">gini = 0.444</text><text y="4.67">samples = 3</text><text y="24.67">value = [1, 2]</text></g>
<g id="n104" class="node" transform="translate(5430,466.67)"><rect x="-132" y="-45.33" width="264" height="90.67"/><text y="-25.33">average_montly_hours &lt;= 216.5</text><text y="-5.33">gini = 0.419</text><text y="14.67">samples = 546</text><text y="34.67">value = [163, 383]</text></g>
<g id="n105" class="node" transform="translate(5430,605.33)"><rect x="-102" y="-45.33" width="204" height="90.67"/><text y="-25.33">last_evaluation &lt;= 0.995</text><text y="-5.33">gini = 0.134</text><text y="14.67">samples = 111</text><text y="34.67">value = [103, 8]</text></g>
<g id="n106" class="node" transform="translate(5339,744)"><rect x="-97" y="-45.33" width="194" height="90.67"/><text y="-25.33">number_project &lt;= 5.5</text><text y="-5.33">gini = 0.089</text><text y="14.67">samples = 107</text><text y="34.67">value = [102, 5]</text></g>
<g id="n107" class="node" transform="translate(5251,882.67)"><rect x="-121.5" y="-45.33" width="243" height="90.67"/><text y="-25.33">time_spend_company &lt;= 5.5</text><text y="-5.33">gini = 0.061</text><text y="14.67">samples = 96</text><text y="34.67">value = [93, 3]</text></g>
<g id="n108" class="node" transform="translate(5064,1021.33)"><rect x="-97" y="-45.33" width="194" height="90.67"/><text y="-25.33">number_project &lt;= 3.5</text><text y="-5.33">gini = 0.18</text><text y="14.67">samples = 30</text><text y="34.67">value = [27, 3]</text></g>
<g id="n109" class="node" transform="translate(4989,1150)"><rect x="-60.5" y="-35.33" width="121" height="70.67"/><text y="-15.33">gini = 0.375</text><text y="4.67">samples = 12</text><text y="24.67">value = [9, 3]</text></g>
<g id="n110" class="node" transform="translate(5139,1150)"><rect x="-65.5" y="-35.33" width="131" height="70.67"/><text y="-15.33">gini = 0.0</text><text y="4.67">samples = 18</text><text y="24.67">value = [18, 0]</text></g>
<g id="n111" class="node" transform="translate(5251,1021.33)"><rect x="-65.5" y="-35.33" width="131" height="70.67"/><text y="-15.33">gini = 0.0</text><text y="4.67">samples = 66</text><text y="24.67">value = [66, 0]</text></g>
<g id="n112" class="node" transform="translate(5494,882.67)"><rect x="-97.5" y="-45.33" width="195" height="90.67"/><text y="-25.33">last_evaluation &lt;= 0.84</text><text y="-5.33">gini = 0.298</text><text y="14.67">samples = 11</text><text y="34.67">value = [9, 2]</text></g>
<g id="n113" class="node" transform="translate(5401,1021.33)"><rect x="-60.5" y="-35.33" width="121" height="70.67"/><text y="-15.33">gini = 0.0</text><text y="4.67">samples = 1</text><text y="24.67">value = [0, 1]</text></g>
<g id="n114" class="node" transform="translate(5589,1021.33)"><rect x="-103.5" y="-45.33" width="207" height="90.67"/><text y="-25.33">department_sales &lt;= 0.5</text><text y="-5.33">gini = 0.18</text><text y="14.67">samples = 10</text><text y="34.67">value = [9, 1]</text></g>
<g id="n115" class="node" transform="translate(5444,1150)"><rect x="-60.5" y="-35.33" width="121" height="70.67"/><text y="-15.33">gini = 0.0</text><text y="4.67">samples = 9</text><text y="24.67">value = [9, 0]</text></g>
<g id="n116" class="node" transform="translate(5589,1150)"><rect x="-60.5" y="-35.33" width="121" height="70.67"/><text y="-15.33">gini = 0.0</text><text y="4.67">samples = 1</text><text y="24.67">value = [0, 1]</text></g>
<g id="n117" class="node" transform="translate(5521,744)"><rect x="-60.5" y="-35.33" width="121" height="70.67"/><text y="-15.33">gini = 0.375</text><text y="4.67">samples = 4</text><text y="24.67">value = [1, 3]</text></g>
<g id="n118" class="node" transform="translate(5885,605.33)"><rect x="-111.5" y="-45.33" width="223" height="90.67"/><text y="-25.33">satisfaction_level &lt;= 0.715</text><text y="-5.33">gini = 0.238</text><text y="14.67">samples = 435</text><text y="34.67">value = [60, 375]</text></g>
<g id="n119" class="node" transform="translate(5885,744)"><rect x="-102" y="-45.33" width="204" height="90.67"/><text y="-25.33">last_evaluation &lt;= 0.915</text><text y="-5.33">gini = 0.234</text><text y="14.67">samples = 37</text><text y="34.67">value = [32, 5]</text></g>
<g id="n120" class="node" transform="translate(5779,882.67)"><rect x="-65.5" y="-35.33" width="131" height="70.67"/><text y="-15.33">gini = 0.0</text><text y="4.67">samples = 23</text><text y="24.67">value = [23, 0]</text></g>
<g id="n121" class="node" transform="translate(5988,882.67)"><rect x="-121.5" y="-45.33" width="243" height="90.67"/><text y="-25.33">time_spend_company &lt;= 5.5</text><text y="-5.33">gini = 0.459</text><text y="14.67">samples = 14</text><text y="34.67">value = [9, 5]</text></g>
<g id="n122" class="node" transform="translate(5824,1021.33)"><rect x="-106.5" y="-45.33" width="213" height="90.67"/><text y="-25.33">satisfaction_level &lt;= 0.67</text><text y="-5.33">gini = 0.444</text><text y="14.67">samples = 6</text><text y="34.67">value = [2, 4]</text></g>
<g id="n123" class="node" transform="translate(5737,1150)"><rect x="-60.5" y="-35.33" width="121" height="70.67"/><text y="-15.33">gini = 0.0</text><text y="4.67">samples = 3</text><text y="24.67">value = [0, 3]</text></g>
<g id="n124" class="node" transform="translate(5881,1150)"><rect x="-60.5" y="-35.33" width="121" height="70.67"/><text y="-15.33">gini = 0.444</text><text y="4.67">samples = 3</text><text y="24.67">value = [2, 1]</text></g>
<g id="n125" class="node" transform="translate(6087,1021.33)"><rect x="-132" y="-45.33" width="264" height="90.67"/><text y="-25.33">average_montly_hours &lt;= 219.5</text><text y="-5.33">gini = 0.219</text><text y="14.67">samples = 8</text><text y="34.67">value = [7, 1]</text></g>
<g id="n126" class="node" transform="translate(6028,1150)"><rect x="-60.5" y="-35.33" width="121" height="70.67"/><text y="-15.33">gini = 0.0</text><text y="4.67">samples = 1</text><text y="24.67">value = [0, 1]</text></g>
<g id="n127" class="node" transform="translate(6172,1150)"><rect x="-60.5" y="-35.33" width="121" height="70.67"/><text y="-15.33">gini = 0.0</text><text y="4.67">samples = 7</text><text y="24.67">value = [7, 0]</text></g>
<g id="n128" class="node" transform="translate(6375,744)"><rect x="-121" y="-45.33" width="242" height="90.67"/><text y="-25.33">time_spend_company &lt;= 6.5</text><text y="-5.33">gini = 0.131</text><text y="14.67">samples = 398</text><text y="34.67">value = [28, 370]</text></g>
<g id="n129" class="node" transform="translate(6375,882.67)"><rect x="-97" y="-45.33" width="194" height="90.67"/><text y="-25.33">number_project &lt;= 3.5</text><text y="-5.33">gini = 0.093</text><text y="14.67">samples = 389</text><text y="34.67">value = [19, 370]</text></g>
<g id="n130" class="node" transform="translate(6375,1021.33)"><rect x="-132" y="-45.33" width="264" height="90.67"/><text y="-25.33">average_montly_hours &lt;= 287.5</text><text y="-5.33">gini = 0.219</text><text y="14.67">samples = 8</text><text y="34.67">value = [7, 1]</text></g>
<g id="n131" class="node" transform="translate(6320,1150)"><rect x="-60.5" y="-35.33" width="121" height="70.67"/><text y="-15.33">gini = 0.0</text><text y="4.67">samples = 7</text><text y="24.67">value = [7, 0]</text></g>
<g id="n132" class="node" transform="translate(6466,1150)"><rect x="-60.5" y="-35.33" width="121" height="70.67"/><text y="-15.33">gini = 0.0</text><text y="4.67">samples = 1</text><text y="24.67">value = [0, 1]</text></g>
<g id="n133" class="node" transform="translate(6628,1021.33)"><rect x="-97" y="-45.33" width="194" height="90.67"/><text y="-25.33">number_project &lt;= 5.5</text><text y="-5.33">gini = 0.061</text><text y="14.67">samples = 381</text><text y="34.67">value = [12, 369]</text></g>
<g id="n134" class="node" transform="translate(6625,1150)"><rect x="-69.5" y="-35.33" width="139" height="70.67"/><text y="-15.33">gini = 0.047</text><text y="4.67">samples = 377</text><text y="24.67">value = [9, 368]</text></g>
<g id="n135" class="node" transform="translate(6781,1150)"><rect x="-60.5" y="-35.33" width="121" height="70.67"/><text y="-15.33">gini = 0.375</text><text y="4.67">samples = 4</text><text y="24.67">value = [3, 1]</text></g>
<g id="n136" class="node" transform="translate(6558,882.67)"><rect x="-60.5" y="-35.33" width="121" height="70.67"/><text y="-15.33">gini = 0.0</text><text y="4.67">samples = 9</text><text y="24.67">value = [9, 0]</text></g>
</g>
</svg>
